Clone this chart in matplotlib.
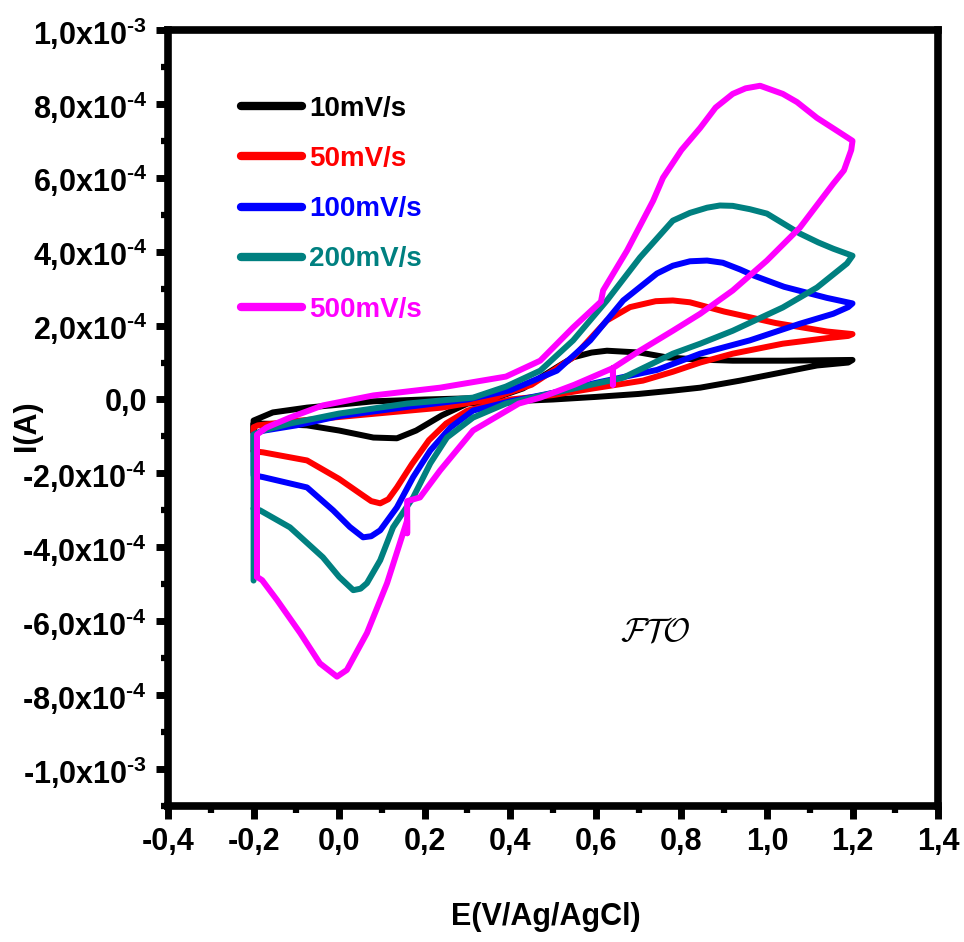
import matplotlib
matplotlib.use("Agg")
import matplotlib.pyplot as plt
from matplotlib.ticker import MultipleLocator, FuncFormatter

plt.rcParams['font.family'] = ['Liberation Sans', 'DejaVu Sans']
plt.rcParams['font.weight'] = 'bold'
plt.rcParams['mathtext.fontset'] = 'custom'
plt.rcParams['mathtext.rm'] = 'Liberation Sans:bold'
plt.rcParams['mathtext.default'] = 'rm'

# voltammogrammes sur FTO, courant en unites de 1e-4 A
# balayage aller (-0.2 -> 1.2 V) puis retour (1.2 -> -0.2 V)
E_10 = [-0.2, -0.2, -0.155, -0.075, 0.0, 0.08, 0.2, 0.3, 0.38, 0.43, 0.47, 0.51, 0.547, 0.59, 0.626,
        0.703, 0.766, 0.84, 0.92, 1.04, 1.2,
        1.19, 1.117, 0.937, 0.844, 0.78, 0.7, 0.6, 0.5, 0.4, 0.3, 0.24, 0.18, 0.135, 0.08, 0.0,
        -0.075, -0.15, -0.2, -0.2]
I_10 = [-0.9, -0.57, -0.35, -0.22, -0.14, -0.05, 0.0, 0.03, 0.1, 0.3, 0.59, 0.88, 1.14, 1.27, 1.32,
        1.27, 1.14, 1.08, 1.05, 1.05, 1.07,
        1.0, 0.92, 0.51, 0.32, 0.24, 0.15, 0.07, 0.0, -0.05, -0.11, -0.43, -0.84, -1.05, -1.03, -0.84,
        -0.70, -0.66, -0.65, -0.9]

E_50 = [-0.2, -0.2, -0.19, -0.1, 0.04, 0.24, 0.35, 0.45, 0.547, 0.626, 0.68, 0.74, 0.78, 0.82, 0.9,
        1.02, 1.14, 1.2,
        1.19, 1.14, 1.037, 0.92, 0.844, 0.78, 0.71, 0.594, 0.5, 0.4, 0.3, 0.25, 0.21, 0.17, 0.135, 0.115,
        0.096, 0.075, 0.056, 0.0, -0.075, -0.178, -0.2]
I_50 = [-1.4, -0.75, -0.7, -0.58, -0.43, -0.22, 0.0, 0.4, 1.14, 2.14, 2.5, 2.66, 2.68, 2.63, 2.38,
        2.07, 1.84, 1.77,
        1.72, 1.66, 1.51, 1.24, 1.0, 0.75, 0.51, 0.3, 0.12, 0.0, -0.3, -0.65, -1.1, -1.75, -2.38, -2.7,
        -2.81, -2.75, -2.6, -2.15, -1.65, -1.43, -1.4]

E_100 = [-0.2, -0.2, -0.18, -0.1, 0.0, 0.16, 0.3, 0.4, 0.509, 0.587, 0.664, 0.743, 0.78, 0.82, 0.86,
         0.897, 0.937, 0.97, 1.04, 1.14, 1.2,
         1.19, 1.155, 1.077, 0.96, 0.844, 0.743, 0.6, 0.5, 0.4, 0.313, 0.26, 0.213, 0.173, 0.135, 0.096,
         0.075, 0.056, 0.025, -0.014, -0.075, -0.178, -0.2]
I_100 = [-2.0, -0.95, -0.85, -0.7, -0.45, -0.2, 0.0, 0.25, 0.78, 1.6, 2.68, 3.41, 3.62, 3.74, 3.76,
         3.7, 3.52, 3.35, 3.05, 2.75, 2.6,
         2.5, 2.32, 2.05, 1.6, 1.24, 0.8, 0.45, 0.18, -0.05, -0.3, -0.76, -1.38, -2.1, -2.92, -3.54,
         -3.7, -3.73, -3.45, -3.0, -2.38, -2.1, -2.05]

E_200 = [-0.2, -0.2, -0.178, -0.115, 0.0, 0.159, 0.313, 0.39, 0.47, 0.547, 0.626, 0.703, 0.78, 0.82,
         0.86, 0.89, 0.92, 0.96, 1.0, 1.04, 1.077, 1.12, 1.155, 1.2,
         1.187, 1.117, 1.037, 0.92, 0.844, 0.78, 0.664, 0.55, 0.45, 0.39, 0.313, 0.252, 0.213, 0.173,
         0.126, 0.096, 0.065, 0.05, 0.033, 0.0, -0.038, -0.115, -0.185, -0.2]
I_200 = [-4.9, -0.95, -0.84, -0.65, -0.38, -0.11, 0.05, 0.35, 0.78, 1.6, 2.68, 3.84, 4.84, 5.05,
         5.19, 5.25, 5.24, 5.15, 5.03, 4.75, 4.49, 4.25, 4.08, 3.89,
         3.68, 3.03, 2.49, 1.86, 1.51, 1.24, 0.59, 0.3, 0.05, -0.11, -0.49, -1.03, -1.73, -2.65,
         -3.46, -4.35, -4.97, -5.12, -5.16, -4.8, -4.27, -3.46, -3.0, -2.95]

E_500 = [-0.192, -0.192, -0.17, -0.115, -0.038, 0.08, 0.236, 0.39, 0.47, 0.547, 0.612, 0.617, 0.673,
         0.734, 0.757, 0.80, 0.844, 0.88, 0.92, 0.95, 0.984, 1.037, 1.07, 1.117, 1.16, 1.2,
         1.197, 1.18, 1.155, 1.077, 1.0, 0.92, 0.844, 0.78, 0.7, 0.64, 0.64, 0.64, 0.55, 0.47, 0.42,
         0.313, 0.236, 0.189, 0.159, 0.159, 0.159, 0.112, 0.065, 0.018, -0.005, -0.045, -0.091, -0.145,
         -0.18, -0.192]
I_500 = [-4.8, -0.95, -0.76, -0.49, -0.16, 0.11, 0.32, 0.62, 1.05, 1.95, 2.65, 2.95, 4.03,
         5.38, 6.0, 6.75, 7.35, 7.9, 8.27, 8.42, 8.49, 8.27, 8.05, 7.62, 7.3, 7.0,
         6.75, 6.2, 5.84, 4.65, 3.76, 2.95, 2.32, 1.86, 1.3, 0.85, 0.4, 0.85, 0.4, 0.05, -0.11,
         -0.84, -1.92, -2.65, -2.75, -3.62, -3.27, -4.97, -6.32, -7.32, -7.5, -7.14, -6.32, -5.43,
         -4.89, -4.8]

series = [
    (E_10, I_10, 'black', '10mV/s'),
    (E_50, I_50, '#ff0000', '50mV/s'),
    (E_100, I_100, '#0000ff', '100mV/s'),
    (E_200, I_200, '#008080', '200mV/s'),
    (E_500, I_500, '#ff00ff', '500mV/s'),
]

fig = plt.figure(figsize=(9.64, 9.42), dpi=100)
ax = fig.add_axes([0.1743, 0.1444, 0.7988, 0.8238])

for E, I, c, lab in series:
    ax.plot(E, [v * 1e-4 for v in I], color=c, lw=4.3, label=lab,
            solid_joinstyle='round', solid_capstyle='round')

ax.set_xlim(-0.4, 1.4)
ax.set_ylim(-1.1e-3, 1.0e-3)

ax.xaxis.set_major_locator(MultipleLocator(0.2))
ax.xaxis.set_minor_locator(MultipleLocator(0.1))
ax.yaxis.set_major_locator(MultipleLocator(2e-4))
ax.yaxis.set_minor_locator(MultipleLocator(1e-4))


def fmt_x(v, pos):
    s = f'{v:.1f}'.replace('.', ',')
    return '0,0' if s == '-0,0' else s


def fmt_y(v, pos):
    if abs(v) < 1e-9:
        return '0,0'
    if abs(abs(v) - 1e-3) < 1e-9:
        m, e = v / 1e-3, 3
    else:
        m, e = v / 1e-4, 4
    return f'{m:.1f}'.replace('.', ',') + r'x10$^{\text{-' + str(e) + '}}$'


ax.xaxis.set_major_formatter(FuncFormatter(fmt_x))
ax.yaxis.set_major_formatter(FuncFormatter(fmt_y))

for sp in ax.spines.values():
    sp.set_linewidth(5.5)
ax.tick_params(which='major', direction='out', length=9, width=5, labelsize=22, pad=6)
ax.tick_params(which='minor', direction='out', length=5, width=4.5)
ax.tick_params(top=False, right=False, which='both')
for t in ax.get_xticklabels() + ax.get_yticklabels():
    t.set_fontweight('bold')

ax.set_xlabel('E(V/Ag/AgCl)', fontsize=22, fontweight='bold')
ax.set_ylabel('I(A)', fontsize=22, fontweight='bold')
ax.xaxis.set_label_coords(0.49, -0.124)
ax.yaxis.set_label_coords(-0.164, 0.49)

leg = ax.legend(loc='upper left', bbox_to_anchor=(0.095, 0.915), frameon=False,
                prop={'size': 20, 'weight': 'bold'}, labelcolor='linecolor',
                handlelength=2.2, handletextpad=0.25, labelspacing=0.87,
                borderpad=0, borderaxespad=0)
for h in leg.get_lines():
    h.set_linewidth(6)

ax.text(0.738, -6.3e-4, r'$\mathcal{FTO}$', math_fontfamily='cm', fontsize=24,
        ha='center', va='center')

fig.savefig('out.png', dpi=100)
